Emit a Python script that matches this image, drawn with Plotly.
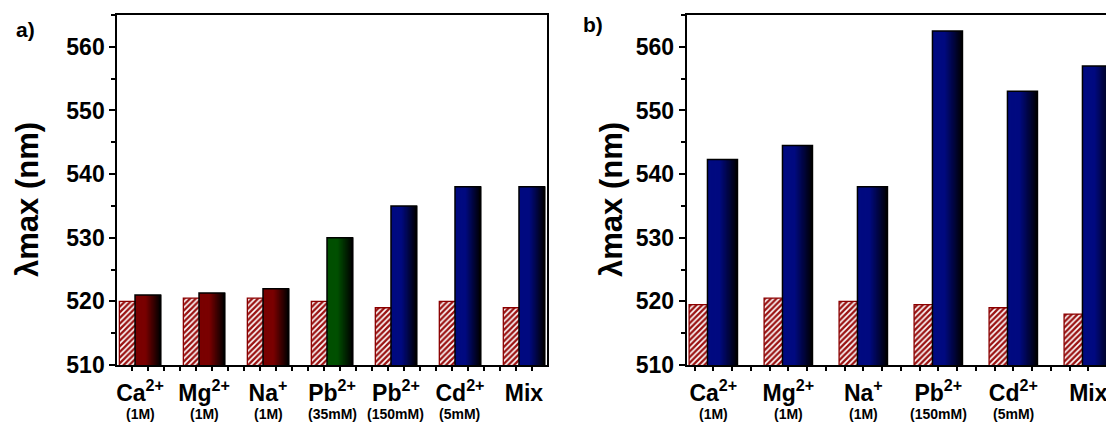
import plotly.graph_objects as go

# ---------------- data ----------------
labels_a = ["Ca<sup>2+</sup>", "Mg<sup>2+</sup>", "Na<sup>+</sup>", "Pb<sup>2+</sup>",
            "Pb<sup>2+</sup>", "Cd<sup>2+</sup>", "Mix"]
sub_a = ["(1M)", "(1M)", "(1M)", "(35mM)", "(150mM)", "(5mM)", ""]
before_a = [520.0, 520.5, 520.5, 520.0, 519.0, 520.0, 519.0]
after_a = [521.0, 521.3, 522.0, 530.0, 535.0, 538.0, 538.0]
colgrp_a = ["red", "red", "red", "green", "blue", "blue", "blue"]

labels_b = ["Ca<sup>2+</sup>", "Mg<sup>2+</sup>", "Na<sup>+</sup>", "Pb<sup>2+</sup>",
            "Cd<sup>2+</sup>", "Mix"]
sub_b = ["(1M)", "(1M)", "(1M)", "(150mM)", "(5mM)", ""]
before_b = [519.5, 520.5, 520.0, 519.5, 519.0, 518.0]
after_b = [542.3, 544.5, 538.0, 562.5, 553.0, 557.0]
colgrp_b = ["blue"] * 6

y_ticks = [510, 520, 530, 540, 550, 560]
y_title = "λmax (nm)"
panel_tags = ["a)", "b)"]

# ---------------- style ----------------
BASE = {"red": (122, 0, 0), "green": (0, 80, 0), "blue": (0, 10, 128)}
FONT = "Liberation Sans, Arial, sans-serif"
W, H = 1106, 423
HATCH_OFF, HATCH_W = -0.323, 0.36
SOLID_OFF, SOLID_W = -0.078, 0.40
NSLICE = 24


def shade(rgb, t):
    f = 1.0 if t < 0.4 else 1.0 - (t - 0.4) / 0.6 * 0.97
    return "rgb(%d,%d,%d)" % tuple(int(round(c * f)) for c in rgb)


fig = go.Figure()


def add_panel(xa, ya, before, after, grp):
    xs = list(range(1, len(before) + 1))
    # hatched "before" bars
    fig.add_trace(go.Bar(
        x=xs, y=before, xaxis=xa, yaxis=ya, offset=HATCH_OFF, width=HATCH_W,
        marker=dict(color="white",
                    pattern=dict(shape="/", fgcolor="#9a1212", bgcolor="white",
                                 size=4, solidity=0.6, fillmode="replace"),
                    line=dict(color="#8b0000", width=1.3)),
        showlegend=False, hoverinfo="skip"))
    # gradient "after" bars: successive overlapping bars, each reaching the right edge
    sw = SOLID_W / NSLICE
    for i in range(NSLICE):
        t = i / (NSLICE - 1)
        fig.add_trace(go.Bar(
            x=xs, y=after, xaxis=xa, yaxis=ya,
            offset=SOLID_OFF + i * sw, width=SOLID_W - i * sw,
            marker=dict(color=[shade(BASE[g], t) for g in grp], line=dict(width=0)),
            showlegend=False, hoverinfo="skip"))
    # outline
    fig.add_trace(go.Bar(
        x=xs, y=after, xaxis=xa, yaxis=ya, offset=SOLID_OFF, width=SOLID_W,
        marker=dict(color="rgba(0,0,0,0)", line=dict(color="black", width=1.5)),
        showlegend=False, hoverinfo="skip"))


add_panel("x", "y", before_a, after_a, colgrp_a)
add_panel("x2", "y2", before_b, after_b, colgrp_b)

ydom = [1 - 365 / H, 1 - 15 / H]
xdom_a = [117.3 / W, 546.7 / W]
xdom_b = [686.7 / W, 1.0]

common_x = dict(showline=True, linecolor="black", linewidth=2, mirror=True,
                showgrid=False, zeroline=False, ticks="outside", ticklen=0,
                tickcolor="black", ticklabelstandoff=6, ticklabeloverflow="allow",
                automargin=False,
                tickfont=dict(family=FONT, size=23, color="black", weight="bold"),
                tickmode="array")
common_y = dict(showline=True, linecolor="black", linewidth=2, automargin=False,
                showgrid=False, zeroline=False, range=[510, 565],
                ticks="outside", ticklen=6, tickwidth=2, tickcolor="black",
                tickmode="array", tickvals=y_ticks, ticktext=[str(v) for v in y_ticks],
                tickfont=dict(family=FONT, size=23, color="black", weight="bold"),
                minor=dict(ticks="outside", ticklen=4, tickwidth=1.5, tickcolor="black",
                           dtick=5, tick0=510, showgrid=False))

fig.update_layout(
    width=W, height=H, margin=dict(l=0, r=0, t=0, b=0, autoexpand=False),
    paper_bgcolor="white", plot_bgcolor="white", barmode="overlay",
    xaxis=dict(common_x, domain=xdom_a, anchor="y", range=[0.645, 7.355],
               tickvals=list(range(1, 8)), ticktext=labels_a,
               minor=dict(ticks="outside", ticklen=4, tickwidth=1.5, tickcolor="black",
                          dtick=0.25, tick0=0.875, showgrid=False)),
    yaxis=dict(common_y, domain=ydom, anchor="x", mirror=True),
    xaxis2=dict(common_x, domain=xdom_b, anchor="y2", range=[0.645, 6.236],
                tickvals=list(range(1, 7)), ticktext=labels_b,
                minor=dict(ticks="outside", ticklen=4, tickwidth=1.5, tickcolor="black",
                           dtick=0.25, tick0=1.0, showgrid=False)),
    yaxis2=dict(common_y, domain=ydom, anchor="x2", mirror=False),
)

ann = []
for xa, subs in (("x", sub_a), ("x2", sub_b)):
    for i, s in enumerate(subs):
        if s:
            ann.append(dict(x=i + 1, y=1 - 414 / H, xref=xa, yref="paper", text=s,
                            showarrow=False, yanchor="middle",
                            font=dict(family=FONT, size=14, color="black", weight="bold")))
for xc in (27 / W, 611 / W):
    ann.append(dict(x=xc, y=1 - 200 / H, xref="paper", yref="paper", text=y_title,
                    textangle=-90, showarrow=False, xanchor="center", yanchor="middle",
                    font=dict(family=FONT, size=31, color="black", weight="bold")))
for tag, xc, yc in ((panel_tags[0], 25 / W, 30 / H), (panel_tags[1], 593 / W, 25 / H)):
    ann.append(dict(x=xc, y=1 - yc, xref="paper", yref="paper", text=tag,
                    showarrow=False, xanchor="center", yanchor="middle",
                    font=dict(family=FONT, size=21, color="black", weight="bold")))
fig.update_layout(annotations=ann)

fig.write_html("out.html")
